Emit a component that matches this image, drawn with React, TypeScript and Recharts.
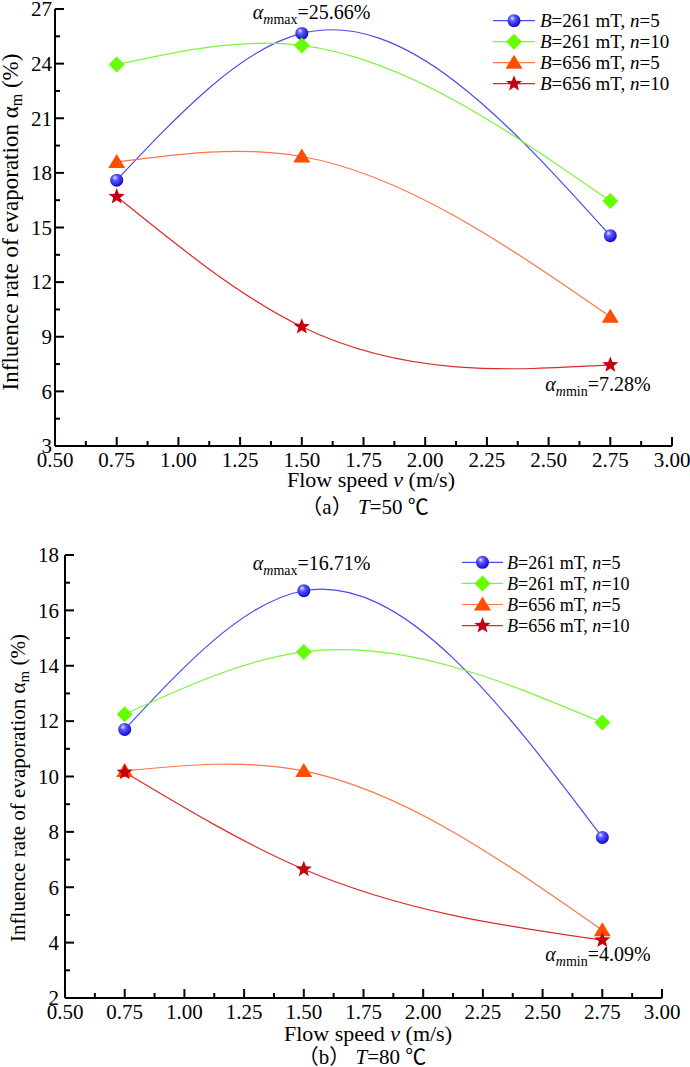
import React from "react";
import { LineChart, Line, XAxis, YAxis, Legend, ReferenceDot } from "recharts";

// flow speed v (m/s)
const SPEED = [0.75, 1.5, 2.75];

// (a) T = 50 ℃, influence rate of evaporation (%)
const A_B261_N5 = [17.6, 25.66, 14.55];
const A_B261_N10 = [23.95, 25.0, 16.45];
const A_B656_N5 = [18.6, 18.9, 10.1];
const A_B656_N10 = [16.7, 9.55, 7.45];

// (b) T = 80 ℃
const B_B261_N5 = [11.7, 16.71, 7.8];
const B_B261_N10 = [12.25, 14.5, 11.95];
const B_B656_N5 = [10.2, 10.2, 4.45];
const B_B656_N10 = [10.15, 6.65, 4.09];

const X_TICKS = [
	0.5, 0.625, 0.75, 0.875, 1, 1.125, 1.25, 1.375, 1.5, 1.625, 1.75, 1.875, 2,
	2.125, 2.25, 2.375, 2.5, 2.625, 2.75, 2.875, 3,
];
const Y_TICKS_A = [3, 4.5, 6, 7.5, 9, 10.5, 12, 13.5, 15, 16.5, 18, 19.5, 21, 22.5, 24, 25.5, 27];
const Y_TICKS_B = [2, 3, 4, 5, 6, 7, 8, 9, 10, 11, 12, 13, 14, 15, 16, 17, 18];

const SERIES = [
	{ key: "s1", B: "261", n: "5", line: "#4a4af2", shape: "sphere" },
	{ key: "s2", B: "261", n: "10", line: "#7cf53a", shape: "diamond" },
	{ key: "s3", B: "656", n: "5", line: "#ff7448", shape: "triangle" },
	{ key: "s4", B: "656", n: "10", line: "#dc2a2a", shape: "star" },
];

const SERIF = '"Liberation Serif", "Times New Roman", serif';
const CAPTION_FONT = '"Liberation Serif", "Noto Sans CJK SC", serif';

function rows(a: number[], b: number[], c: number[], d: number[]) {
	return SPEED.map((v, i) => ({ v, s1: a[i], s2: b[i], s3: c[i], s4: d[i] }));
}

const dataA = rows(A_B261_N5, A_B261_N10, A_B656_N5, A_B656_N10);
const dataB = rows(B_B261_N5, B_B261_N10, B_B656_N5, B_B656_N10);

// natural cubic spline of y as a function of x (like Origin's spline connect)
function splineX(context: any) {
	let xs: number[] = [];
	let ys: number[] = [];
	return {
		areaStart() {},
		areaEnd() {},
		lineStart() {
			xs = [];
			ys = [];
		},
		point(x: number, y: number) {
			xs.push(+x);
			ys.push(+y);
		},
		lineEnd() {
			const n = xs.length;
			if (n === 0) return;
			context.moveTo(xs[0], ys[0]);
			if (n === 1) return;
			if (n === 2) {
				context.lineTo(xs[1], ys[1]);
				return;
			}
			const h: number[] = [];
			for (let i = 0; i < n - 1; i++) h.push(xs[i + 1] - xs[i]);
			const a: number[] = [];
			const b: number[] = [];
			const c: number[] = [];
			const d: number[] = [];
			for (let i = 1; i < n - 1; i++) {
				a.push(h[i - 1]);
				b.push(2 * (h[i - 1] + h[i]));
				c.push(h[i]);
				d.push(6 * ((ys[i + 1] - ys[i]) / h[i] - (ys[i] - ys[i - 1]) / h[i - 1]));
			}
			const m = a.length;
			for (let i = 1; i < m; i++) {
				const w = a[i] / b[i - 1];
				b[i] -= w * c[i - 1];
				d[i] -= w * d[i - 1];
			}
			const sol = new Array(m).fill(0);
			sol[m - 1] = d[m - 1] / b[m - 1];
			for (let i = m - 2; i >= 0; i--) sol[i] = (d[i] - c[i] * sol[i + 1]) / b[i];
			const M = [0, ...sol, 0];
			for (let i = 0; i < n - 1; i++) {
				const hi = h[i];
				const s = (ys[i + 1] - ys[i]) / hi;
				const m0 = s - (hi * (2 * M[i] + M[i + 1])) / 6;
				const m1 = s + (hi * (M[i] + 2 * M[i + 1])) / 6;
				context.bezierCurveTo(
					xs[i] + hi / 3,
					ys[i] + (m0 * hi) / 3,
					xs[i + 1] - hi / 3,
					ys[i + 1] - (m1 * hi) / 3,
					xs[i + 1],
					ys[i + 1],
				);
			}
		},
	};
}

function Marker({ shape, cx, cy, gid }: { shape: string; cx: number; cy: number; gid: string }) {
	if (shape === "sphere") {
		return (
			<g>
				<defs>
					<radialGradient id={gid} cx="0.42" cy="0.38" r="0.62" fx="0.36" fy="0.3">
						<stop offset="0" stopColor="#e4e4ff" />
						<stop offset="0.35" stopColor="#5a5aff" />
						<stop offset="1" stopColor="#1208c8" />
					</radialGradient>
				</defs>
				<circle cx={cx} cy={cy} r={6.5} fill={`url(#${gid})`} />
			</g>
		);
	}
	if (shape === "diamond") {
		const s = 8;
		return (
			<polygon
				points={`${cx},${cy - s} ${cx + s},${cy} ${cx},${cy + s} ${cx - s},${cy}`}
				fill="#66ff00"
			/>
		);
	}
	if (shape === "triangle") {
		return (
			<polygon
				points={`${cx},${cy - 8} ${cx + 8.5},${cy + 6} ${cx - 8.5},${cy + 6}`}
				fill="#ff4e00"
			/>
		);
	}
	const pts: string[] = [];
	for (let i = 0; i < 10; i++) {
		const r = i % 2 === 0 ? 8.5 : 3.6;
		const a = -Math.PI / 2 + (i * Math.PI) / 5;
		pts.push(`${cx + r * Math.cos(a)},${cy + r * Math.sin(a)}`);
	}
	return <polygon points={pts.join(" ")} fill="#c40010" />;
}

function isMultiple(v: number, step: number) {
	const q = v / step;
	return Math.abs(q - Math.round(q)) < 1e-6;
}

function XTick(props: any) {
	const { x, y, payload } = props;
	const major = isMultiple(payload.value, 0.25);
	return (
		<g>
			<line x1={x} x2={x} y1={y} y2={y - (major ? 9 : 5)} stroke="#000" strokeWidth={2} />
			{major && (
				<text x={x} y={y + 21} textAnchor="middle" fontFamily={SERIF} fontSize={21} fill="#000">
					{payload.value.toFixed(2)}
				</text>
			)}
		</g>
	);
}

function YTick(props: any) {
	const { x, y, payload, step, gap } = props;
	const major = isMultiple(payload.value, step);
	return (
		<g>
			<line x1={x} x2={x + (major ? 9 : 5)} y1={y} y2={y} stroke="#000" strokeWidth={2} />
			{major && (
				<text
					x={x - gap}
					y={y}
					dy="0.35em"
					textAnchor="end"
					fontFamily={SERIF}
					fontSize={21}
					fill="#000"
				>
					{payload.value}
				</text>
			)}
		</g>
	);
}

function Annotation({ viewBox, dx, dy, sub, value }: any) {
	return (
		<text x={viewBox.x + dx} y={viewBox.y + dy} fontFamily={SERIF} fontSize={20} fill="#000">
			<tspan fontStyle="italic">α</tspan>
			<tspan fontStyle="italic" fontSize={14} dy={5}>
				m
			</tspan>
			<tspan fontSize={14}>{sub}</tspan>
			<tspan dy={-5}>={value}</tspan>
		</text>
	);
}

function LegendBox({ fontSize, gid, rowH, top0, lineEnd, textX }: any) {
	return (
		<svg width={200} height={95}>
			{SERIES.map((s, i) => {
				const cy = top0 + rowH * i;
				const mid = (3 + lineEnd) / 2;
				return (
					<g key={s.key}>
						<line x1={3} x2={lineEnd} y1={cy} y2={cy} stroke={s.line} strokeWidth={1.2} />
						<Marker shape={s.shape} cx={mid} cy={cy} gid={`${gid}-lg`} />
						<text x={textX} y={cy} dy="0.35em" fontFamily={SERIF} fontSize={fontSize} fill="#000">
							<tspan fontStyle="italic">B</tspan>={s.B} mT, <tspan fontStyle="italic">n</tspan>={s.n}
						</text>
					</g>
				);
			})}
		</svg>
	);
}

function Panel(props: any) {
	const { data, height, margin, yDomain, yTicks, yStep, yGap, gid, legend, maxAt, minAt } = props;
	return (
		<LineChart width={690} height={height} data={data} margin={margin}>
			<XAxis
				dataKey="v"
				type="number"
				domain={[0.5, 3]}
				ticks={X_TICKS}
				interval={0}
				height={30}
				tickSize={0}
				tickMargin={0}
				axisLine={{ stroke: "#000", strokeWidth: 2 }}
				tickLine={false}
				tick={(p: any) => <XTick {...p} />}
			/>
			<YAxis
				type="number"
				domain={yDomain}
				ticks={yTicks}
				interval={0}
				width={50}
				tickSize={0}
				tickMargin={0}
				axisLine={{ stroke: "#000", strokeWidth: 2 }}
				tickLine={false}
				tick={(p: any) => <YTick {...p} step={yStep} gap={yGap} />}
			/>
			{SERIES.map((s) => (
				<Line
					key={s.key}
					type={splineX as any}
					dataKey={s.key}
					stroke={s.line}
					strokeWidth={1.2}
					activeDot={false}
					isAnimationActive={false}
					dot={(p: any) => (
						<Marker
							key={`${s.key}-${p.index}`}
							shape={s.shape}
							cx={p.cx}
							cy={p.cy}
							gid={`${gid}-${p.index}`}
						/>
					)}
				/>
			))}
			<ReferenceDot
				x={maxAt.x}
				y={maxAt.y}
				r={1}
				fill="none"
				stroke="none"
				label={(p: any) => (
					<Annotation viewBox={p.viewBox} dx={maxAt.dx} dy={maxAt.dy} sub="max" value={maxAt.text} />
				)}
			/>
			<ReferenceDot
				x={minAt.x}
				y={minAt.y}
				r={1}
				fill="none"
				stroke="none"
				label={(p: any) => (
					<Annotation viewBox={p.viewBox} dx={minAt.dx} dy={minAt.dy} sub="min" value={minAt.text} />
				)}
			/>
			<Legend
				layout="vertical"
				align="center"
				verticalAlign="middle"
				wrapperStyle={{ left: legend.left, top: legend.top, width: 200 }}
				content={() => <LegendBox gid={gid} {...legend} />}
			/>
		</LineChart>
	);
}

export default function App() {
	return (
		<div style={{ position: "absolute", left: 0, top: 0, width: 690, height: 1067, background: "#fff" }}>
			<div style={{ position: "absolute", left: 0, top: 0 }}>
				<Panel
					data={dataA}
					height={530}
					margin={{ top: 9, right: 18, left: 5, bottom: 54 }}
					yDomain={[3, 27]}
					yTicks={Y_TICKS_A}
					yStep={3}
					yGap={3}
					gid="ga"
					legend={{ left: 490, top: 8, fontSize: 19, rowH: 21, top0: 12.7, lineEnd: 45, textX: 50 }}
					maxAt={{ x: SPEED[1], y: A_B261_N5[1], dx: -48, dy: -13, text: "25.66%" }}
					minAt={{ x: SPEED[2], y: A_B656_N10[2], dx: -64, dy: 27, text: "7.28%" }}
				/>
			</div>
			<div style={{ position: "absolute", left: 0, top: 530 }}>
				<Panel
					data={dataB}
					height={537}
					margin={{ top: 25, right: 28, left: 15, bottom: 39 }}
					yDomain={[2, 18]}
					yTicks={Y_TICKS_B}
					yStep={2}
					yGap={6}
					gid="gb"
					legend={{ left: 459, top: 20, fontSize: 18, rowH: 21.1, top0: 12.3, lineEnd: 44, textX: 48 }}
					maxAt={{ x: SPEED[1], y: B_B261_N5[1], dx: -50, dy: -20, text: "16.71%" }}
					minAt={{ x: SPEED[2], y: B_B656_N10[2], dx: -56, dy: 22, text: "4.09%" }}
				/>
			</div>
			<svg
				width={690}
				height={1067}
				style={{ position: "absolute", left: 0, top: 0, pointerEvents: "none" }}
			>
				<text
					transform="translate(18,222) rotate(-90)"
					textAnchor="middle"
					fontFamily={SERIF}
					fontSize={23}
					fill="#000"
				>
					Influence rate of evaporation α
					<tspan fontSize={16} dy={4}>
						m
					</tspan>
					<tspan dy={-4}> (%)</tspan>
				</text>
				<text x={371} y={487} textAnchor="middle" fontFamily={SERIF} fontSize={22} fill="#000">
					Flow speed <tspan fontStyle="italic">v</tspan> (m/s)
				</text>
				<text x={365} y={514} textAnchor="middle" fontFamily={CAPTION_FONT} fontSize={21} fill="#000">
					（a） <tspan fontStyle="italic">T</tspan>=50 ℃
				</text>

				<text
					transform="translate(25,788) rotate(-90)"
					textAnchor="middle"
					fontFamily={SERIF}
					fontSize={21}
					fill="#000"
				>
					Influence rate of evaporation α
					<tspan fontSize={15} dy={4}>
						m
					</tspan>
					<tspan dy={-4}> (%)</tspan>
				</text>
				<text x={368} y={1041} textAnchor="middle" fontFamily={SERIF} fontSize={22} fill="#000">
					Flow speed <tspan fontStyle="italic">v</tspan> (m/s)
				</text>
				<text x={362} y={1064} textAnchor="middle" fontFamily={CAPTION_FONT} fontSize={21} fill="#000">
					（b） <tspan fontStyle="italic">T</tspan>=80 ℃
				</text>
			</svg>
		</div>
	);
}
